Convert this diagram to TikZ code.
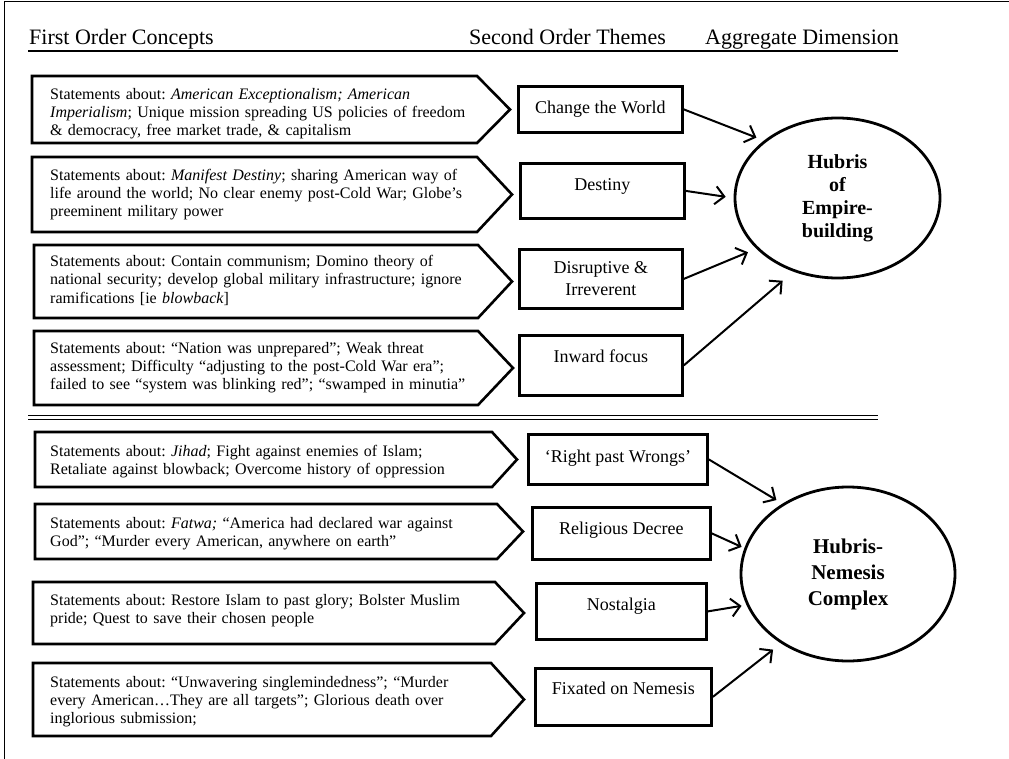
\documentclass[tikz,border=0pt]{standalone}
\usepackage{fontspec}
\setmainfont{Liberation Serif}
\usetikzlibrary{arrows.meta,shapes.geometric}
\frenchspacing
\def\lw{2.6pt}
\def\txtx{50}
\def\sepy{417.5}

\begin{document}
\begin{tikzpicture}[x=1pt,y=-1pt,
  concept/.style={anchor=base west, inner sep=0pt, text width=470pt, align=left,
    font=\fontsize{16}{18}\selectfont},
  theme/.style={draw, line width=2.8pt, inner sep=0pt, anchor=north west, align=center,
    font=\fontsize{18}{22}\selectfont},
  dimension/.style={draw, ellipse, line width=2.8pt, inner sep=0pt, align=center},
  heading/.style={anchor=base west, inner sep=0pt, font=\fontsize{22}{26}\selectfont},
  link/.style={line width=2pt, -{Straight Barb[length=9pt,width=18pt]}}]

\useasboundingbox (0,0) rectangle (1009,759);

% outer frame, only top and left
\draw[line width=1.5pt] (4.5,1.5) -- (1009,1.5);
\draw[line width=1.5pt] (4.5,1.5) -- (4.5,759);

% column headings
\node[heading] (h1) at (29,45) {First Order Concepts};
\node[heading] (h2) at (469,45) {Second Order Themes};
\node[heading] (h3) at (705,45) {Aggregate Dimension};
\draw[line width=1.4pt] (28,51) -- (898,51);

% arrow shaped boxes of the first order concepts
\foreach \l/\t/\b/\r/\p in {32/76/143/477/510, 32/157/232/477/512, 34/245/318/478/512,
  34/331/405/478/513, 35/432/487/492/517, 35/504/559/497/523, 33/582/644/495/524,
  33/663/736/491/524}{
  \draw[line width=\lw] (\l,\t) -- (\r,\t) -- (\p,{(\t+\b)/2}) -- (\r,\b) -- (\l,\b) -- cycle;
}

\node[concept] (c1) at (\txtx,100) {Statements about: \textit{American Exceptionalism; American}\\
  \textit{Imperialism}; Unique mission spreading US policies of freedom\\
  \& democracy, free market trade, \& capitalism};
\node[concept] (c2) at (\txtx,181) {Statements about: \textit{Manifest Destiny}; sharing American way of\\
  life around the world; No clear enemy post-Cold War; Globe’s\\
  preeminent military power};
\node[concept] (c3) at (\txtx,267) {Statements about: Contain communism; Domino theory of\\
  national security; develop global military infrastructure; ignore\\
  ramifications [ie \textit{blowback}]};
\node[concept] (c4) at (\txtx,353) {Statements about: “Nation was unprepared”; Weak threat\\
  assessment; Difficulty “adjusting to the post-Cold War era”;\\
  failed to see “system was blinking red”; “swamped in minutia”};
\node[concept] (c5) at (\txtx,456) {Statements about: \textit{Jihad}; Fight against enemies of Islam;\\
  Retaliate against blowback; Overcome history of oppression};
\node[concept] (c6) at (\txtx,528) {Statements about: \textit{Fatwa;} “America had declared war against\\
  God”; “Murder every American, anywhere on earth”};
\node[concept] (c7) at (\txtx,605) {Statements about: Restore Islam to past glory; Bolster Muslim\\
  pride; Quest to save their chosen people};
\node[concept] (c8) at (\txtx,687) {Statements about: “Unwavering singlemindedness”; “Murder\\
  every American…They are all targets”; Glorious death over\\
  inglorious submission;};

% second order themes
\node[theme, minimum width=164pt, minimum height=46pt] (t1) at (517,85) {Change the World};
\node[theme, minimum width=164pt, text height=27pt, text depth=28pt] (t2) at (519,162) {Destiny};
\node[theme, minimum width=163pt, minimum height=59pt] (t3) at (518,248) {Disruptive \&\\Irreverent};
\node[theme, minimum width=163pt, text height=27pt, text depth=33pt] (t4) at (518,334) {Inward focus};
\node[theme, minimum width=179pt, text height=28pt, text depth=22pt] (t5) at (527,433) {‘Right past Wrongs’};
\node[theme, minimum width=178pt, text height=27pt, text depth=25pt] (t6) at (531,506) {Religious Decree};
\node[theme, minimum width=170pt, text height=27pt, text depth=29pt] (t7) at (535,582) {Nostalgia};
\node[theme, minimum width=176pt, text height=26pt, text depth=31pt] (t8) at (534,667) {Fixated on Nemesis};

% aggregate dimensions
\node[dimension, minimum width=205pt, minimum height=160pt,
  font=\fontsize{20}{23}\selectfont\bfseries] (e1) at (837.5,198) {Hubris\\of\\Empire-\\building};
\node[dimension, minimum width=214pt, minimum height=174pt,
  font=\fontsize{21}{26}\selectfont\bfseries] (e2) at (848,574) {Hubris-\\Nemesis\\Complex};

\draw[double, double distance=2.4pt, line width=1.6pt] (28,\sepy) -- (878,\sepy);

\draw[link, shorten >=8pt] (t1.east) -- (e1.142);
\draw[link, shorten >=8pt] (t2.east) -- (e1.180);
\draw[link, shorten >=9pt] (t3.east) -- (e1.212);
\draw[link, shorten >=14pt] (t4.east) -- (e1.239);
\draw[link, shorten >=7pt] (t5.east) -- (e2.133);
\draw[link, shorten >=3pt] (t6.east) -- (e2.166);
\draw[link, shorten >=5pt] (t7.east) -- (e2.197);
\draw[link, shorten >=10pt] (t8.east) -- (e2.226);

\end{tikzpicture}
\end{document}
